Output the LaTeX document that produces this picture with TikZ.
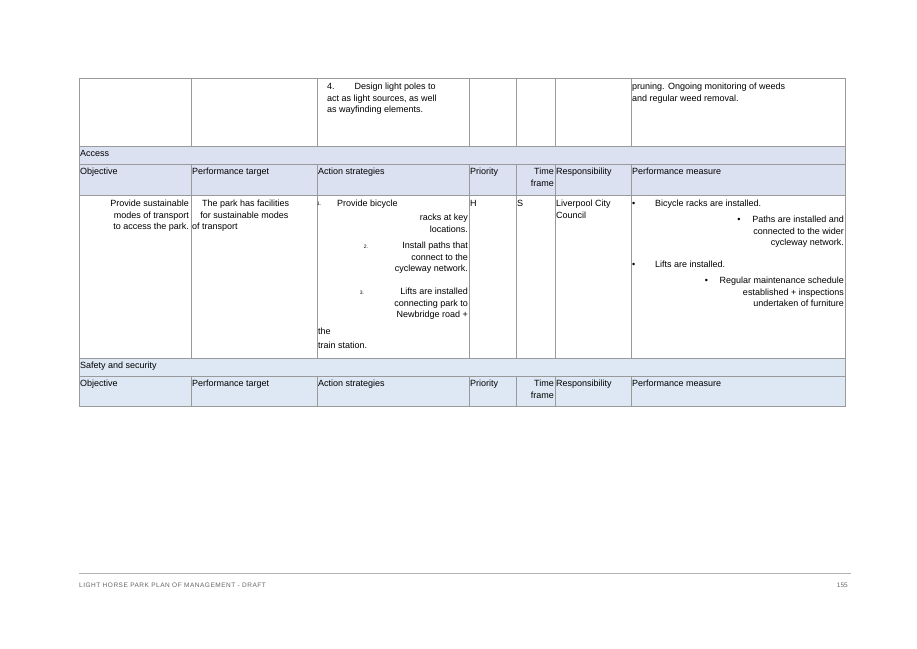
\documentclass[tikz,border=0pt]{standalone}
\usepackage{fontspec}
\setmainfont{Liberation Sans}
\definecolor{bandA}{HTML}{DCE1F2}
\definecolor{bandB}{HTML}{DDE8F4}
\definecolor{rule}{HTML}{9A9A9A}
\tikzset{
  cell/.style={inner sep=1pt, font=\fontsize{9}{11.5}\selectfont, align=left},
  num/.style={inner sep=0pt, font=\fontsize{5}{6}\selectfont}
}
\begin{document}
\begin{tikzpicture}[x=1pt,y=-1pt]
\useasboundingbox[fill=white] (0,0) rectangle (917,648);
% shaded bands
\fill[bandA] (79,146) rectangle (845,195);
\fill[bandB] (79,358) rectangle (845,406);
% grid
\draw[rule, line width=.6pt] (79,78) rectangle (845,406);
\foreach \y in {146,164,195,358,376} \draw[rule, line width=.6pt] (79,\y) -- (845,\y);
\foreach \x in {191,317,469,516,555,631}
  {\draw[rule, line width=.6pt] (\x,78) -- (\x,146);
   \draw[rule, line width=.6pt] (\x,164) -- (\x,358);
   \draw[rule, line width=.6pt] (\x,376) -- (\x,406);}
% first row
\node[cell, anchor=north west] (d4) at (326,82) {4.\hspace{2.2em}Design light poles to\\act as light sources, as well\\as wayfinding elements.};
\node[cell, anchor=north west] (prune) at (631,82) {pruning. Ongoing monitoring of weeds\\and regular weed removal.};
% access
\node[cell, anchor=north west] (access) at (79,149) {Access};
\foreach \x/\t [count=\i] in {79/Objective,191/Performance target,317/Action strategies,469/Priority,555/Responsibility,631/Performance measure}
  \node[cell, anchor=north west] (hA\i) at (\x,167) {\t};
\node[cell, anchor=north east, align=right] (tfA) at (555,167) {Time\\frame};
% body
\node[cell, anchor=north east, align=right] (obj) at (190,199) {Provide sustainable\\modes of transport\\to access the park.};
\node[cell, anchor=north west] (tgt) at (191,199) {\hspace{1.1em}The park has facilities\\\hspace{0.9em}for sustainable modes\\of transport};
\node[num, anchor=north west] (n1) at (317,202) {1.};
\node[cell, anchor=north west] (s1) at (336,199) {Provide bicycle};
\node[cell, anchor=north east, align=right] (s1b) at (469,213) {racks at key\\locations.};
\node[num] (n2) at (366,247) {2.};
\node[cell, anchor=north east, align=right] (s2) at (469,241) {Install paths that\\connect to the\\cycleway network.};
\node[num] (n3) at (362,293) {3.};
\node[cell, anchor=north east, align=right] (s3) at (469,287) {Lifts are installed\\connecting park to\\Newbridge road +};
\node[cell, anchor=north west] (s3b) at (317,327) {the\\[2pt]train station.};
\node[cell, anchor=north west] (pri) at (469,199) {H};
\node[cell, anchor=north west] (tf) at (516,199) {S};
\node[cell, anchor=north west] (resp) at (555,199) {Liverpool City\\Council};
\node[cell, anchor=north west] (b1) at (631,199) {\textbullet\hspace{2.2em}Bicycle racks are installed.};
\node[cell, anchor=north east, align=right] (b2) at (845,215) {\textbullet\hspace{1.3em}Paths are installed and\\connected to the wider\\cycleway network.};
\node[cell, anchor=north west] (b3) at (631,260) {\textbullet\hspace{2.2em}Lifts are installed.};
\node[cell, anchor=north east, align=right] (b4) at (845,276) {\textbullet\hspace{1.3em}Regular maintenance schedule\\established + inspections\\undertaken of furniture};
% safety
\node[cell, anchor=north west] (safety) at (79,361) {Safety and security};
\foreach \x/\t [count=\i] in {79/Objective,191/Performance target,317/Action strategies,469/Priority,555/Responsibility,631/Performance measure}
  \node[cell, anchor=north west] (hB\i) at (\x,379) {\t};
\node[cell, anchor=north east, align=right] (tfB) at (555,379) {Time\\frame};
% footer
\draw[black!30, line width=.5pt] (79,573) -- (851,573);
\node[inner sep=0pt, anchor=west, text=black!60, font=\fontsize{6.5}{8}\selectfont\addfontfeature{LetterSpace=8}] (foot) at (79,585) {LIGHT HORSE PARK PLAN OF MANAGEMENT - DRAFT};
\node[inner sep=0pt, anchor=east, text=black!60, font=\fontsize{6.5}{8}\selectfont] (page) at (848,585) {155};
\end{tikzpicture}
\end{document}
